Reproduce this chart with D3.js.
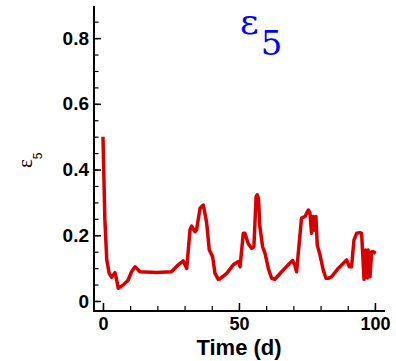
<!DOCTYPE html>
<html>
<head>
<meta charset="utf-8">
<script src="https://cdn.jsdelivr.net/npm/d3@7"></script>
<style>
  body { margin: 0; background: #fff; }
</style>
</head>
<body>
<svg id="chart" width="396" height="361"></svg>
<script>
// time (days) and eps5 values
const times = [0, 0.7, 1.4, 2.3, 3.2, 4.4, 4.9, 5.6, 7.5, 9.3, 10.5, 11.8, 13.6, 19.7, 25.2, 27.7, 29.5, 30.8,
  32, 32.6, 33.8, 34.4, 35.7, 36.9, 38.1, 39.1, 40.3, 41.2, 42.4, 43, 45.5, 47.9, 49.8, 50.4, 51.6, 52.2,
  53.4, 54.7, 55.5, 56.3, 56.7, 57.2, 57.7, 58.7, 59.6, 60.8, 62, 63.2, 65.7, 68.1, 69.7, 70.5, 71.2,
  73, 74.3, 75.5, 76.1, 76.7, 77.3, 77.9, 78.3, 78.8, 79.8, 81, 82, 82.8, 84.1, 86.5, 88.4, 89.6, 90.6,
  91.4, 92.3, 93.3, 94.5, 95.1, 96, 96.6, 97.2, 97.5, 98.2, 98.8, 99.4, 100.3];
const eps5 = [0.50, 0.246, 0.125, 0.084, 0.072, 0.086, 0.07, 0.039, 0.049, 0.064, 0.089, 0.104, 0.089, 0.087, 0.089, 0.110, 0.122, 0.099,
  0.216, 0.228, 0.211, 0.216, 0.282, 0.292, 0.240, 0.155, 0.135, 0.084, 0.066, 0.067, 0.084, 0.110, 0.120, 0.104, 0.206, 0.206,
  0.175, 0.160, 0.165, 0.317, 0.323, 0.310, 0.226, 0.165, 0.145, 0.099, 0.069, 0.066, 0.089, 0.110, 0.123, 0.110, 0.089,
  0.252, 0.257, 0.277, 0.268, 0.206, 0.257, 0.215, 0.257, 0.170, 0.140, 0.094, 0.069, 0.069, 0.074, 0.099, 0.115, 0.125, 0.104,
  0.104, 0.186, 0.206, 0.208, 0.206, 0.066, 0.155, 0.070, 0.155, 0.074, 0.150, 0.150, 0.145];
const yTicks = [0, 0.2, 0.4, 0.6, 0.8];
const yMinor = d3.range(0, 0.9, 0.05);
const xTicks = [0, 50, 100];
const xMinor = d3.range(0, 101, 10);

const sans = "'Liberation Sans', Arial, sans-serif";
const serif = "'Liberation Serif', 'Times New Roman', serif";
const mathFont = "'DejaVu Serif', serif";

const svg = d3.select("#chart");
const mLeft = 94, mRight = 385, mTop = 6, mBottom = 311;

const x = d3.scaleLinear().domain([-3.3, 103.7]).range([mLeft, mRight]);
const y = d3.scaleLinear().domain([-0.0305, 0.8977]).range([mBottom, mTop]);

// minor ticks first
svg.append("g")
  .attr("transform", `translate(${mLeft},0)`)
  .call(d3.axisLeft(y).tickValues(yMinor).tickSize(-4.5).tickFormat(""))
  .call(g => g.select(".domain").remove())
  .selectAll("line").attr("stroke", "#000").attr("stroke-width", 1.2);

svg.append("g")
  .attr("transform", `translate(0,${mBottom})`)
  .call(d3.axisBottom(x).tickValues(xMinor).tickSize(-5).tickFormat(""))
  .call(g => g.select(".domain").remove())
  .selectAll("line").attr("stroke", "#000").attr("stroke-width", 1.2);

// major ticks + labels
const yAxis = svg.append("g")
  .attr("transform", `translate(${mLeft},0)`)
  .call(d3.axisLeft(y).tickValues(yTicks).tickSize(-7).tickPadding(5)
    .tickFormat(d => d === 0 ? "0" : d3.format(".1f")(d)));
yAxis.select(".domain").remove();
yAxis.selectAll("line").attr("stroke", "#000").attr("stroke-width", 1.5);
yAxis.selectAll("text")
  .attr("fill", "#000")
  .style("font-family", sans).style("font-size", "19px").style("font-weight", "bold");

const xAxis = svg.append("g")
  .attr("transform", `translate(0,${mBottom})`)
  .call(d3.axisBottom(x).tickValues(xTicks).tickSize(-8).tickPadding(6));
xAxis.select(".domain").remove();
xAxis.selectAll("line").attr("stroke", "#000").attr("stroke-width", 1.5);
xAxis.selectAll("text")
  .attr("fill", "#000")
  .style("font-family", sans).style("font-size", "18px").style("font-weight", "bold");

// axis lines
svg.append("path")
  .attr("d", `M${mLeft},${mTop}V${mBottom}H${mRight}`)
  .attr("fill", "none").attr("stroke", "#000").attr("stroke-width", 2);

// the curve
const line = d3.line().x((d, i) => x(times[i])).y(d => y(d));
svg.append("path")
  .datum(eps5)
  .attr("d", line)
  .attr("fill", "none")
  .attr("stroke", "#d60000")
  .attr("stroke-width", 3.5)
  .attr("stroke-linejoin", "round");

// labels
svg.append("text")
  .attr("x", 239).attr("y", 355)
  .attr("text-anchor", "middle")
  .style("font-family", sans).style("font-size", "22px").style("font-weight", "bold")
  .text("Time (d)");

const yl = svg.append("text")
  .attr("transform", "translate(32,168) rotate(-90)")
  .style("font-family", serif).style("font-size", "21px");
yl.append("tspan").text("ε");
yl.append("tspan").style("font-family", sans).style("font-size", "12px")
  .attr("dy", 10).text("5");

const title = svg.append("text")
  .attr("x", 240).attr("y", 34)
  .attr("fill", "#0000ff")
  .style("font-family", mathFont).style("font-size", "36px");
title.append("tspan").text("ε");
title.append("tspan").style("font-size", "34px").attr("dy", 21).attr("dx", 2).text("5");
</script>
</body>
</html>
